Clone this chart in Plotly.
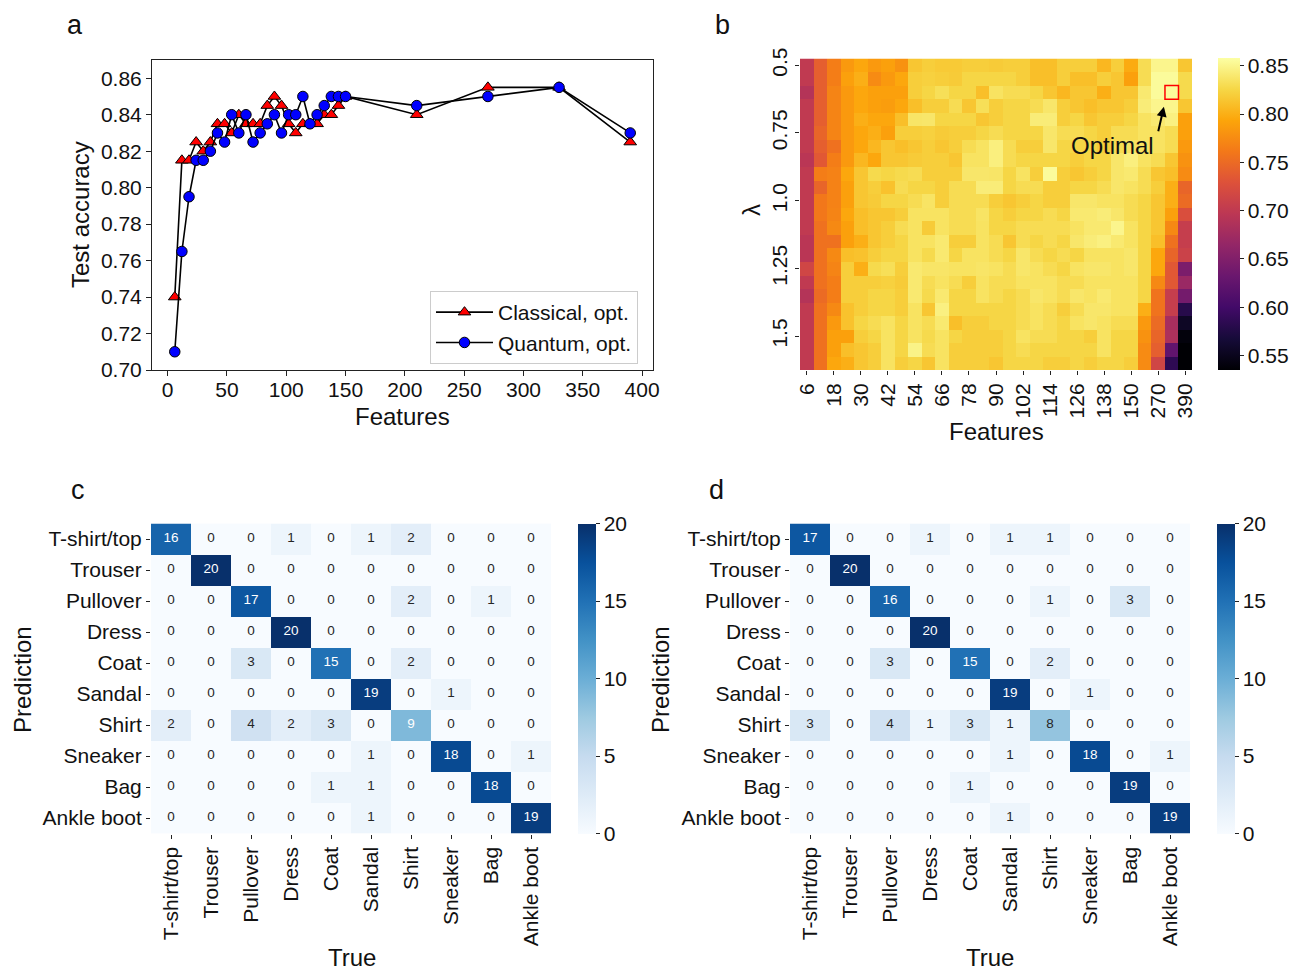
import plotly.graph_objects as go

# ---------------- data ----------------
features_a = [6, 12, 18, 24, 30, 36, 42, 48, 54, 60, 66, 72, 78, 84, 90, 96, 102, 108, 114, 120,
              126, 132, 138, 144, 150, 210, 270, 330, 390]
classical_acc = [0.74, 0.815, 0.815, 0.825, 0.82, 0.825, 0.835, 0.835, 0.83, 0.84, 0.835, 0.835, 0.835,
                 0.845, 0.85, 0.845, 0.835, 0.83, 0.835, 0.835, 0.835, 0.84, 0.84, 0.845, 0.85,
                 0.84, 0.855, 0.855, 0.825]
quantum_acc = [0.71, 0.765, 0.795, 0.815, 0.815, 0.82, 0.83, 0.825, 0.84, 0.83, 0.84, 0.825, 0.83,
               0.835, 0.84, 0.83, 0.84, 0.84, 0.85, 0.835, 0.84, 0.845, 0.85, 0.85, 0.85,
               0.845, 0.85, 0.855, 0.83]

features_b = [6, 12, 18, 24, 30, 36, 42, 48, 54, 60, 66, 72, 78, 84, 90, 96, 102, 108, 114, 120,
              126, 132, 138, 144, 150, 210, 270, 330, 390]
feature_ticks_b = [6, 18, 30, 42, 54, 66, 78, 90, 102, 114, 126, 138, 150, 270, 390]
lambdas = [0.5, 0.55, 0.6, 0.65, 0.7, 0.75, 0.8, 0.85, 0.9, 0.95, 1.0, 1.05, 1.1, 1.15, 1.2,
           1.25, 1.3, 1.35, 1.4, 1.45, 1.5, 1.55, 1.6]
lambda_ticks = [0.5, 0.75, 1.0, 1.25, 1.5]
lambda_ticktext = ["0.5", "0.75", "1.0", "1.25", "1.5"]
optimal_feature = 330
optimal_lambda = 0.6

acc_grid = [
    [0.70, 0.74, 0.765, 0.785, 0.795, 0.785, 0.79, 0.78, 0.815, 0.82, 0.817, 0.817, 0.82, 0.82, 0.818, 0.82, 0.82, 0.81, 0.81, 0.82, 0.82, 0.82, 0.805, 0.82, 0.797, 0.83, 0.85, 0.85, 0.815],
    [0.70, 0.74, 0.765, 0.79, 0.80, 0.775, 0.785, 0.795, 0.82, 0.822, 0.82, 0.818, 0.825, 0.825, 0.825, 0.825, 0.82, 0.81, 0.81, 0.82, 0.81, 0.81, 0.82, 0.815, 0.79, 0.83, 0.855, 0.855, 0.828],
    [0.69, 0.74, 0.77, 0.785, 0.795, 0.79, 0.79, 0.79, 0.82, 0.825, 0.832, 0.825, 0.825, 0.81, 0.835, 0.83, 0.83, 0.825, 0.815, 0.805, 0.815, 0.815, 0.80, 0.815, 0.815, 0.84, 0.855, 0.855, 0.828],
    [0.70, 0.74, 0.77, 0.785, 0.795, 0.79, 0.788, 0.795, 0.81, 0.82, 0.82, 0.83, 0.815, 0.832, 0.82, 0.825, 0.825, 0.83, 0.838, 0.82, 0.815, 0.81, 0.815, 0.815, 0.82, 0.843, 0.85, 0.85, 0.815],
    [0.70, 0.74, 0.77, 0.785, 0.80, 0.795, 0.795, 0.81, 0.837, 0.838, 0.825, 0.825, 0.825, 0.815, 0.82, 0.825, 0.825, 0.843, 0.843, 0.82, 0.825, 0.815, 0.82, 0.82, 0.825, 0.835, 0.84, 0.846, 0.79],
    [0.70, 0.745, 0.77, 0.785, 0.795, 0.80, 0.79, 0.82, 0.82, 0.822, 0.818, 0.82, 0.82, 0.825, 0.83, 0.825, 0.825, 0.825, 0.838, 0.83, 0.83, 0.825, 0.82, 0.83, 0.83, 0.835, 0.835, 0.83, 0.79],
    [0.70, 0.74, 0.755, 0.785, 0.795, 0.805, 0.815, 0.81, 0.815, 0.82, 0.815, 0.82, 0.83, 0.835, 0.845, 0.83, 0.82, 0.82, 0.838, 0.825, 0.825, 0.825, 0.82, 0.83, 0.835, 0.835, 0.835, 0.83, 0.785],
    [0.695, 0.735, 0.765, 0.785, 0.805, 0.795, 0.815, 0.815, 0.818, 0.82, 0.82, 0.815, 0.835, 0.835, 0.845, 0.83, 0.825, 0.825, 0.825, 0.825, 0.82, 0.825, 0.825, 0.838, 0.845, 0.835, 0.83, 0.815, 0.78],
    [0.70, 0.765, 0.768, 0.795, 0.815, 0.828, 0.825, 0.828, 0.83, 0.82, 0.82, 0.82, 0.838, 0.838, 0.837, 0.825, 0.835, 0.82, 0.855, 0.82, 0.815, 0.82, 0.825, 0.838, 0.84, 0.83, 0.815, 0.81, 0.775],
    [0.70, 0.745, 0.768, 0.79, 0.815, 0.82, 0.812, 0.83, 0.825, 0.825, 0.82, 0.83, 0.83, 0.843, 0.843, 0.825, 0.83, 0.83, 0.82, 0.82, 0.825, 0.825, 0.83, 0.838, 0.835, 0.83, 0.82, 0.80, 0.745],
    [0.70, 0.76, 0.768, 0.79, 0.815, 0.818, 0.825, 0.825, 0.83, 0.836, 0.82, 0.83, 0.83, 0.83, 0.82, 0.815, 0.82, 0.825, 0.82, 0.82, 0.838, 0.838, 0.835, 0.835, 0.83, 0.825, 0.815, 0.80, 0.75],
    [0.70, 0.76, 0.77, 0.795, 0.81, 0.815, 0.815, 0.82, 0.835, 0.835, 0.835, 0.83, 0.83, 0.836, 0.825, 0.82, 0.825, 0.825, 0.83, 0.825, 0.84, 0.84, 0.843, 0.838, 0.83, 0.825, 0.815, 0.79, 0.725],
    [0.70, 0.755, 0.773, 0.79, 0.81, 0.815, 0.82, 0.83, 0.835, 0.818, 0.835, 0.83, 0.83, 0.835, 0.825, 0.825, 0.83, 0.83, 0.83, 0.83, 0.835, 0.84, 0.84, 0.85, 0.835, 0.825, 0.815, 0.773, 0.705],
    [0.695, 0.755, 0.755, 0.79, 0.80, 0.815, 0.82, 0.825, 0.835, 0.835, 0.84, 0.82, 0.82, 0.835, 0.83, 0.815, 0.83, 0.825, 0.83, 0.825, 0.838, 0.843, 0.846, 0.84, 0.835, 0.825, 0.81, 0.755, 0.705],
    [0.695, 0.755, 0.773, 0.81, 0.812, 0.82, 0.825, 0.825, 0.835, 0.828, 0.84, 0.825, 0.835, 0.835, 0.83, 0.825, 0.838, 0.83, 0.825, 0.83, 0.825, 0.835, 0.835, 0.835, 0.838, 0.825, 0.795, 0.745, 0.71],
    [0.715, 0.755, 0.77, 0.82, 0.80, 0.828, 0.832, 0.82, 0.84, 0.837, 0.837, 0.835, 0.835, 0.837, 0.835, 0.83, 0.838, 0.835, 0.83, 0.825, 0.835, 0.838, 0.838, 0.835, 0.838, 0.825, 0.795, 0.735, 0.645],
    [0.70, 0.755, 0.765, 0.82, 0.82, 0.82, 0.822, 0.818, 0.84, 0.83, 0.835, 0.83, 0.82, 0.835, 0.83, 0.83, 0.835, 0.835, 0.835, 0.83, 0.83, 0.835, 0.835, 0.835, 0.835, 0.825, 0.773, 0.735, 0.67],
    [0.69, 0.75, 0.765, 0.82, 0.82, 0.825, 0.825, 0.82, 0.84, 0.828, 0.84, 0.825, 0.825, 0.835, 0.83, 0.825, 0.83, 0.838, 0.835, 0.83, 0.838, 0.835, 0.84, 0.835, 0.835, 0.825, 0.757, 0.705, 0.64],
    [0.70, 0.755, 0.773, 0.812, 0.82, 0.825, 0.825, 0.82, 0.835, 0.815, 0.846, 0.825, 0.825, 0.825, 0.825, 0.825, 0.83, 0.835, 0.83, 0.82, 0.83, 0.838, 0.838, 0.835, 0.835, 0.80, 0.757, 0.705, 0.58],
    [0.70, 0.755, 0.785, 0.812, 0.825, 0.83, 0.835, 0.825, 0.835, 0.83, 0.84, 0.81, 0.82, 0.82, 0.825, 0.825, 0.83, 0.835, 0.83, 0.825, 0.835, 0.838, 0.835, 0.83, 0.83, 0.785, 0.75, 0.68, 0.555],
    [0.70, 0.755, 0.79, 0.79, 0.82, 0.825, 0.835, 0.825, 0.835, 0.828, 0.835, 0.825, 0.82, 0.82, 0.82, 0.825, 0.835, 0.83, 0.83, 0.825, 0.825, 0.82, 0.835, 0.825, 0.825, 0.78, 0.745, 0.685, 0.54],
    [0.70, 0.755, 0.79, 0.81, 0.815, 0.82, 0.835, 0.825, 0.848, 0.83, 0.835, 0.82, 0.82, 0.82, 0.82, 0.825, 0.83, 0.825, 0.825, 0.825, 0.825, 0.825, 0.835, 0.825, 0.825, 0.775, 0.74, 0.625, 0.535],
    [0.70, 0.755, 0.795, 0.80, 0.815, 0.82, 0.835, 0.82, 0.825, 0.815, 0.835, 0.82, 0.82, 0.82, 0.815, 0.825, 0.825, 0.825, 0.82, 0.82, 0.825, 0.82, 0.825, 0.825, 0.82, 0.775, 0.715, 0.585, 0.535],
]

classes = ["T-shirt/top", "Trouser", "Pullover", "Dress", "Coat", "Sandal", "Shirt",
           "Sneaker", "Bag", "Ankle boot"]
conf_classical = [
    [16, 0, 0, 1, 0, 1, 2, 0, 0, 0],
    [0, 20, 0, 0, 0, 0, 0, 0, 0, 0],
    [0, 0, 17, 0, 0, 0, 2, 0, 1, 0],
    [0, 0, 0, 20, 0, 0, 0, 0, 0, 0],
    [0, 0, 3, 0, 15, 0, 2, 0, 0, 0],
    [0, 0, 0, 0, 0, 19, 0, 1, 0, 0],
    [2, 0, 4, 2, 3, 0, 9, 0, 0, 0],
    [0, 0, 0, 0, 0, 1, 0, 18, 0, 1],
    [0, 0, 0, 0, 1, 1, 0, 0, 18, 0],
    [0, 0, 0, 0, 0, 1, 0, 0, 0, 19],
]
conf_quantum = [
    [17, 0, 0, 1, 0, 1, 1, 0, 0, 0],
    [0, 20, 0, 0, 0, 0, 0, 0, 0, 0],
    [0, 0, 16, 0, 0, 0, 1, 0, 3, 0],
    [0, 0, 0, 20, 0, 0, 0, 0, 0, 0],
    [0, 0, 3, 0, 15, 0, 2, 0, 0, 0],
    [0, 0, 0, 0, 0, 19, 0, 1, 0, 0],
    [3, 0, 4, 1, 3, 1, 8, 0, 0, 0],
    [0, 0, 0, 0, 0, 1, 0, 18, 0, 1],
    [0, 0, 0, 0, 1, 0, 0, 0, 19, 0],
    [0, 0, 0, 0, 0, 1, 0, 0, 0, 19],
]

# ---------------- styling helpers ----------------
W, H = 1299, 972
FONT = "Liberation Sans, Arial, Helvetica, sans-serif"
TXT = "#111111"


def fx(p):
    return p / W


def fy(p):
    return 1 - p / H


inferno = [[0.0, "#000004"], [0.1, "#160b39"], [0.2, "#420a68"], [0.3, "#6a176e"],
           [0.4, "#932667"], [0.5, "#bc3754"], [0.6, "#dd513a"], [0.7, "#f37819"],
           [0.8, "#fca50a"], [0.9, "#f6d746"], [1.0, "#fcffa4"]]
blues = [[0.0, "rgb(247,251,255)"], [0.125, "rgb(222,235,247)"], [0.25, "rgb(198,219,239)"],
         [0.375, "rgb(158,202,225)"], [0.5, "rgb(107,174,214)"], [0.625, "rgb(66,146,198)"],
         [0.75, "rgb(33,113,181)"], [0.875, "rgb(8,81,156)"], [1.0, "rgb(8,48,107)"]]

fig = go.Figure()

# ---------------- panel a ----------------
fig.add_trace(go.Scatter(
    x=features_a, y=classical_acc, mode="lines+markers", name="Classical, opt.",
    line=dict(color="black", width=1.6),
    marker=dict(symbol="triangle-up", size=11, color="red", line=dict(color="black", width=1)),
    xaxis="x", yaxis="y"))
fig.add_trace(go.Scatter(
    x=features_a, y=quantum_acc, mode="lines+markers", name="Quantum, opt.",
    line=dict(color="black", width=1.6),
    marker=dict(symbol="circle", size=10.5, color="blue", line=dict(color="black", width=1)),
    xaxis="x", yaxis="y"))

# ---------------- panel b ----------------
col_idx = list(range(len(features_b)))
fig.add_trace(go.Heatmap(
    z=acc_grid, x=col_idx, y=lambdas, colorscale=inferno, zmin=0.535, zmax=0.858,
    xaxis="x2", yaxis="y2", showscale=True,
    colorbar=dict(x=fx(1218), xanchor="left", xpad=0, y=fy(214), yanchor="middle", ypad=0,
                  len=312 / H, lenmode="fraction", thickness=22, thicknessmode="pixels",
                  outlinewidth=0, ticks="outside", ticklen=4, tickcolor="#222",
                  tickvals=[0.55, 0.60, 0.65, 0.70, 0.75, 0.80, 0.85], tickformat=".2f",
                  tickfont=dict(size=21, family=FONT, color=TXT))))


# ---------------- panels c, d ----------------
def conf_traces(mat, xa, ya, cbx):
    traces = [go.Heatmap(
        z=mat, x=classes, y=classes, colorscale=blues, zmin=0, zmax=20,
        xaxis=xa, yaxis=ya, showscale=True,
        colorbar=dict(x=fx(cbx), xanchor="left", xpad=0, y=fy(678.5), yanchor="middle", ypad=0,
                      len=310 / H, lenmode="fraction", thickness=18, thicknessmode="pixels",
                      outlinewidth=0, ticks="outside", ticklen=4, tickcolor="#222",
                      tickvals=[0, 5, 10, 15, 20],
                      tickfont=dict(size=21, family=FONT, color=TXT)))]
    for light in (True, False):
        xs, ys, ts = [], [], []
        for i, row in enumerate(mat):
            for j, v in enumerate(row):
                if (v >= 9) == light:
                    xs.append(classes[j])
                    ys.append(classes[i])
                    ts.append(str(v))
        traces.append(go.Scatter(
            x=xs, y=ys, text=ts, mode="text", xaxis=xa, yaxis=ya, showlegend=False,
            textfont=dict(size=13.5, family=FONT, color="white" if light else "#262626"),
            hoverinfo="skip"))
    return traces


for t in conf_traces(conf_classical, "x3", "y3", 578):
    fig.add_trace(t)
for t in conf_traces(conf_quantum, "x4", "y4", 1217):
    fig.add_trace(t)

# ---------------- layout ----------------
tickfont = dict(size=21, family=FONT, color=TXT)
frame = dict(showline=True, linecolor="#222", linewidth=1, mirror=True, ticks="outside",
             ticklen=5, tickcolor="#222", showgrid=False, zeroline=False, tickfont=tickfont,
             automargin=False)
plain = dict(ticks="outside", ticklen=4, tickcolor="#222", showgrid=False, zeroline=False,
             showline=False, tickfont=tickfont, automargin=False)

fig.update_layout(
    width=W, height=H, margin=dict(l=0, r=0, t=0, b=0, pad=0, autoexpand=False),
    paper_bgcolor="white", plot_bgcolor="white",
    font=dict(family=FONT, color=TXT),
    xaxis=dict(domain=[fx(152), fx(653)], range=[-13.2, 409.2],
               tickvals=[0, 50, 100, 150, 200, 250, 300, 350, 400], anchor="y",
               ticklabelstandoff=-4, **frame),
    yaxis=dict(domain=[fy(370), fy(60)], range=[0.70, 0.87],
               tickvals=[0.70, 0.72, 0.74, 0.76, 0.78, 0.80, 0.82, 0.84, 0.86],
               tickformat=".2f", anchor="x", **frame),
    xaxis2=dict(domain=[fx(800), fx(1192)], range=[-0.5, len(features_b) - 0.5], anchor="y2",
                tickvals=[features_b.index(f) for f in feature_ticks_b],
                ticktext=[str(f) for f in feature_ticks_b], tickangle=-90, **plain),
    yaxis2=dict(domain=[fy(370), fy(58.5)], range=[lambdas[-1] + 0.025, lambdas[0] - 0.025],
                anchor="x2", tickvals=lambda_ticks, ticktext=lambda_ticktext, tickangle=-90, **plain),
    xaxis3=dict(domain=[fx(151), fx(551)], anchor="y3", tickangle=-90, **plain),
    yaxis3=dict(domain=[fy(833.5), fy(523.5)], anchor="x3", autorange="reversed", **plain),
    xaxis4=dict(domain=[fx(790), fx(1190)], anchor="y4", tickangle=-90, **plain),
    yaxis4=dict(domain=[fy(833.5), fy(523.5)], anchor="x4", autorange="reversed", **plain),
    legend=dict(x=fx(430), y=fy(291), xanchor="left", yanchor="top", bgcolor="white",
                bordercolor="#cccccc", borderwidth=1, font=dict(size=21, family=FONT, color=TXT),
                itemwidth=57, tracegroupgap=4),
    showlegend=True,
)

# Optimal marker square and arrow
opt_col = features_b.index(optimal_feature)
fig.add_shape(type="rect", xref="x2", yref="y2", x0=opt_col - 0.5, x1=opt_col + 0.5,
              y0=optimal_lambda - 0.025, y1=optimal_lambda + 0.025,
              line=dict(color="red", width=1.5), fillcolor="rgba(0,0,0,0)")

annotations = [
    dict(x=opt_col - 0.58, y=optimal_lambda + 0.053, ax=opt_col - 1.02, ay=optimal_lambda + 0.149,
         xref="x2", yref="y2", axref="x2", ayref="y2", text="", showarrow=True,
         arrowhead=2, arrowsize=1, arrowwidth=2, arrowcolor="black"),
    dict(x=opt_col - 4.35, y=optimal_lambda + 0.198, xref="x2", yref="y2", text="Optimal",
         showarrow=False, font=dict(size=24, family=FONT, color=TXT)),
]


def label(text, px, py, size=24, angle=0):
    return dict(text=text, x=fx(px), y=fy(py), xref="paper", yref="paper", showarrow=False,
                textangle=angle, xanchor="center", yanchor="middle",
                font=dict(size=size, family=FONT, color=TXT))


annotations += [
    label("a", 75, 25, 27), label("b", 722, 25, 27), label("c", 78, 490, 27), label("d", 716, 490, 27),
    label("Test accuracy", 80, 215, 24, -90), label("Features", 402, 416, 24),
    label("λ", 752, 210, 24, -90), label("Features", 996, 431, 24),
    label("Prediction", 22, 680, 24, -90), label("True", 352, 957, 24),
    label("Prediction", 660, 680, 24, -90), label("True", 990, 957, 24),
]
fig.update_layout(annotations=annotations)

fig.write_html("out.html")
